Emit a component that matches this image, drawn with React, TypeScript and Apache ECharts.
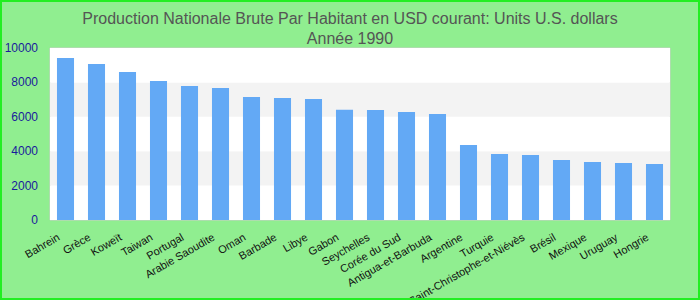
import React, { useEffect, useRef } from "react";
import * as echarts from "echarts";

const categories = [
  "Bahrein", "Grèce", "Koweït", "Taiwan", "Portugal", "Arabie Saoudite", "Oman",
  "Barbade", "Libye", "Gabon", "Seychelles", "Corée du Sud", "Antigua-et-Barbuda",
  "Argentine", "Turquie", "Saint-Christophe-et-Niévès", "Brésil", "Mexique",
  "Uruguay", "Hongrie",
];
const values = [
  9420, 9070, 8600, 8080, 7790, 7670, 7150, 7090, 7030, 6410, 6390, 6280, 6160,
  4360, 3840, 3780, 3490, 3370, 3310, 3260,
];
const titleLines = [
  "Production Nationale Brute Par Habitant en USD courant: Units U.S. dollars",
  "Année 1990",
];

export default function App() {
  const ref = useRef<HTMLDivElement>(null);
  useEffect(() => {
    if (!ref.current) return;
    const chart = echarts.init(ref.current, undefined, { renderer: "svg" });
    chart.setOption({
      animation: false,
      backgroundColor: "#90EE90",
      title: {
        text: titleLines.join("\n"),
        left: "center",
        top: 3,
        textStyle: {
          fontFamily: "Liberation Sans",
          fontSize: 16,
          fontWeight: "normal",
          color: "#555555",
          lineHeight: 20,
        },
      },
      graphic: [
        {
          type: "rect",
          shape: { x: 1, y: 1, width: 698, height: 298 },
          style: { fill: "none", stroke: "#22ee22", lineWidth: 2 },
          silent: true,
          z: 100,
        },
      ],
      grid: {
        left: 50,
        right: 30,
        top: 48,
        bottom: 80,
        containLabel: false,
        outerBoundsMode: "none",
        show: true,
        backgroundColor: "#ffffff",
        borderColor: "#cccccc",
        borderWidth: 1,
      },
      xAxis: {
        type: "category",
        data: categories,
        axisLine: { show: false },
        axisTick: { show: false },
        axisLabel: {
          rotate: 30,
          interval: 0,
          fontFamily: "Liberation Sans",
          fontSize: 11,
          color: "#111111",
          margin: 12,
          padding: [0, 8, 0, 0],
        },
      },
      yAxis: {
        type: "value",
        min: 0,
        max: 10000,
        interval: 2000,
        axisLine: { show: false },
        axisTick: { show: false },
        splitLine: { show: false },
        splitArea: { show: true, areaStyle: { color: ["#ffffff", "#f3f3f3"] } },
        axisLabel: {
          fontFamily: "Liberation Sans",
          fontSize: 12,
          color: "#1a1a9c",
          margin: 12,
          formatter: (v: number) => String(v),
        },
      },
      series: [
        {
          type: "bar",
          data: values,
          barWidth: "55%",
          itemStyle: { color: "#63a9f5" },
        },
      ],
    });
    return () => chart.dispose();
  }, []);
  return (
    <div
      ref={ref}
      style={{ position: "fixed", left: 0, top: 0, width: 700, height: 300 }}
    />
  );
}
